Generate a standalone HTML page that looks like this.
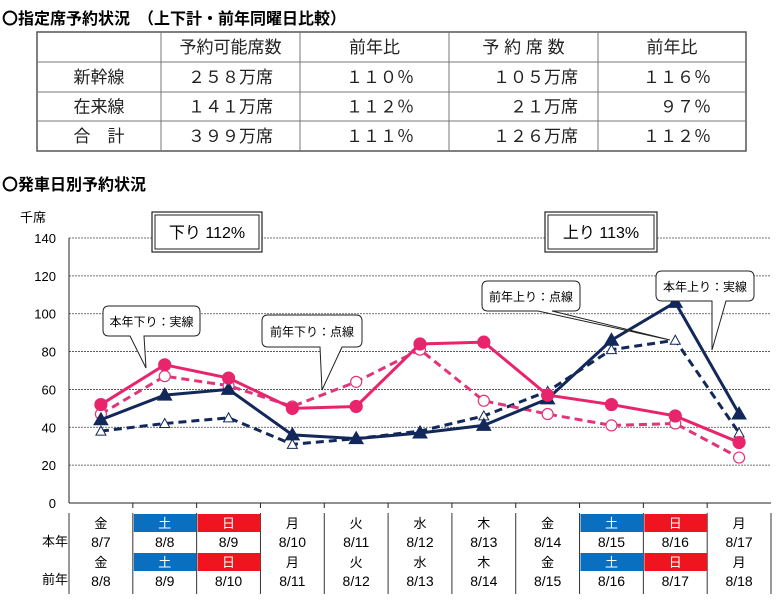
<!DOCTYPE html>
<html><head><meta charset="utf-8">
<style>
body{margin:0;background:#fff;}
svg text{font-family:"Liberation Sans","Noto Sans CJK JP",sans-serif;}
</style></head>
<body>
<svg id="c" width="780" height="596" xmlns="http://www.w3.org/2000/svg">
<g>
<text x="2" y="24" font-size="16" font-weight="bold">〇指定席予約状況　（上下計・前年同曜日比較）</text>
<g id="tbl"></g>
<text x="2" y="190" font-size="16" font-weight="bold">〇発車日別予約状況</text>
</g>
<g id="chart"></g>
</svg>
<script>
const categories=['8/7','8/8','8/9','8/10','8/11','8/12','8/13','8/14','8/15','8/16','8/17'];
const prevDates=['8/8','8/9','8/10','8/11','8/12','8/13','8/14','8/15','8/16','8/17','8/18'];
const weekdays=['金','土','日','月','火','水','木','金','土','日','月'];
const downThisYear=[52,73,66,50,51,84,85,57,52,46,32];
const downLastYear=[47,67,62,51,64,81,54,47,41,42,24];
const upThisYear=[44,57,60,36,34,37,41,55,86,106,47];
const upLastYear=[38,42,45,31,34,38,46,59,81,86,37];
const yTicks=[0,20,40,60,80,100,120,140];
const tableRows=[['','予約可能席数','前年比','予 約 席 数','前年比'],['新幹線','２５８万席','１１０％','１０５万席','１１６％'],['在来線','１４１万席','１１２％','２１万席','９７％'],['合　計','３９９万席','１１１％','１２６万席','１１２％']];

const NS='http://www.w3.org/2000/svg';
function mk(tag,attrs,parent,txt){const e=document.createElementNS(NS,tag);for(const k in attrs)e.setAttribute(k,attrs[k]);if(txt!==undefined)e.textContent=txt;parent.appendChild(e);return e;}

// table
const tbl=document.getElementById('tbl');
const colX=[37,161,300,449,598,746], rowY=[32,62,92,121,151];
mk('rect',{x:37,y:32,width:709,height:119,fill:'none',stroke:'#555','stroke-width':1.5},tbl);
colX.slice(1,-1).forEach(x=>mk('line',{x1:x,y1:32,x2:x,y2:151,stroke:'#777'},tbl));
rowY.slice(1,-1).forEach(y=>mk('line',{x1:37,y1:y,x2:746,y2:y,stroke:'#777'},tbl));
tableRows.forEach((r,i)=>r.forEach((t,j)=>{
  let x,anchor;
  if(i===0||j===0||j===1){x=(colX[j]+colX[j+1])/2;anchor='middle';}
  else{x=colX[j+1]-(j===2||j===4?35:20);anchor='end';}
  const e=mk('text',{x:x,y:(rowY[i]+rowY[i+1])/2+6,'font-size':17,'text-anchor':anchor,fill:'#222'},tbl,t);
  
  
}));

// chart
const ch=document.getElementById('chart');
const L=69,R=771,T=238,B=503,step=(R-L)/11;
const xs=i=>L+step*(i+0.5);
const ys=v=>B-(v/140)*(B-T);
mk('text',{x:20,y:222,'font-size':13},ch,'千席');
yTicks.forEach(v=>{
  const t=mk('text',{x:56,y:ys(v)+5,'font-size':13,'text-anchor':'end'},ch,v);
  
  
  if(v>0){const g=mk('line',{x1:L,y1:ys(v),x2:R,y2:ys(v),stroke:'#444','stroke-dasharray':'2,1','stroke-width':0.8},ch);
  }
});
mk('line',{x1:L,y1:T,x2:L,y2:B,stroke:'#222'},ch);
mk('line',{x1:L,y1:B,x2:R,y2:B,stroke:'#222'},ch);
for(let i=1;i<11;i++)mk('line',{x1:L+step*i,y1:B,x2:L+step*i,y2:B+5,stroke:'#222'},ch);

function dbox(x,y,w,h,t,name){const g=mk('g',{},ch);
 mk('rect',{x:x,y:y,width:w,height:h,fill:'#fff',stroke:'#222','stroke-width':1.2},g);
 mk('rect',{x:x+3,y:y+3,width:w-6,height:h-6,fill:'none',stroke:'#222','stroke-width':1},g);
 mk('text',{x:x+w/2,y:y+h/2+6,'font-size':16,'text-anchor':'middle'},g,t);}
dbox(152,212,110,40,'下り 112%','down-total-box');
dbox(545,212,112,40,'上り 113%','up-total-box');

function series(vals,color,dash,marker,filled,name){
 const g=mk('g',{},ch);
 mk('polyline',{points:vals.map((v,i)=>xs(i)+','+ys(v)).join(' '),fill:'none',stroke:color,'stroke-width':3,'stroke-dasharray':dash?'8,5':'none'},g);
 vals.forEach((v,i)=>{const x=xs(i),y=ys(v);let m;
  if(marker==='c')m=mk('circle',{cx:x,cy:y,r:filled?6:5.5,fill:filled?color:'#fff',stroke:color,'stroke-width':1.2},g);
  else m=mk('polygon',{points:`${x},${y-(filled?7:5)} ${x-(filled?7:5)},${y+(filled?5:4)} ${x+(filled?7:5)},${y+(filled?5:4)}`,fill:filled?color:'#fff',stroke:color,'stroke-width':1},g);
  });
}
series(upLastYear,'#13285a',true,'t',false,'series-up-last-year');
series(downLastYear,'#e0357a',true,'c',false,'series-down-last-year');
series(upThisYear,'#13285a',false,'t',true,'series-up-this-year');
series(downThisYear,'#e8246d',false,'c',true,'series-down-this-year');

function callout(x,y,w,h,t,px,py,bx1,bx2,name){const g=mk('g',{},ch);
 mk('path',{d:`M${x+6},${y} H${x+w-6} Q${x+w},${y} ${x+w},${y+6} V${y+h-6} Q${x+w},${y+h} ${x+w-6},${y+h} H${bx2} L${px},${py} L${bx1},${y+h} H${x+6} Q${x},${y+h} ${x},${y+h-6} V${y+6} Q${x},${y} ${x+6},${y} Z`,fill:'#fff',stroke:'#222','stroke-width':1},g);
 mk('text',{x:x+w/2,y:y+h/2+5,'font-size':12,'text-anchor':'middle'},g,t);}
callout(103,306,97,30,'本年下り：実線',146,368,130,144,'callout-down-this-year');
callout(262,315,100,32,'前年下り：点線',322,390,320,342,'callout-down-last-year');
callout(482,281,98,30,'前年上り：点線',670,340,538,552,'callout-up-last-year');
callout(656,271,98,30,'本年上り：実線',712,350,712,726,'callout-up-this-year');

const dateTop=513;
mk('line',{x1:L,y1:dateTop,x2:L,y2:594,stroke:'#333'},ch);
mk('text',{x:42,y:546,'font-size':13},ch,'本年');
mk('text',{x:42,y:584,'font-size':13},ch,'前年');
categories.forEach((c,i)=>{
 const x0=L+step*i,cx=xs(i),d=weekdays[i];
 mk('line',{x1:x0+step,y1:dateTop,x2:x0+step,y2:594,stroke:'#333'},ch);
 const bg=d==='土'?'#0b6fc0':d==='日'?'#f0141e':null;
 [dateTop,dateTop+39].forEach(yy=>{
  if(bg)mk('rect',{x:x0+1,y:yy+1,width:step-1,height:18,fill:bg},ch);
  const t=mk('text',{x:cx,y:yy+15,'font-size':13,'text-anchor':'middle',fill:bg?'#fff':'#000'},ch,d);
  
 });
 const a=mk('text',{x:cx,y:dateTop+34,'font-size':14,'text-anchor':'middle'},ch,c);
 
 const b=mk('text',{x:cx,y:dateTop+73,'font-size':14,'text-anchor':'middle'},ch,prevDates[i]);
 
});
</script>
</body></html>
